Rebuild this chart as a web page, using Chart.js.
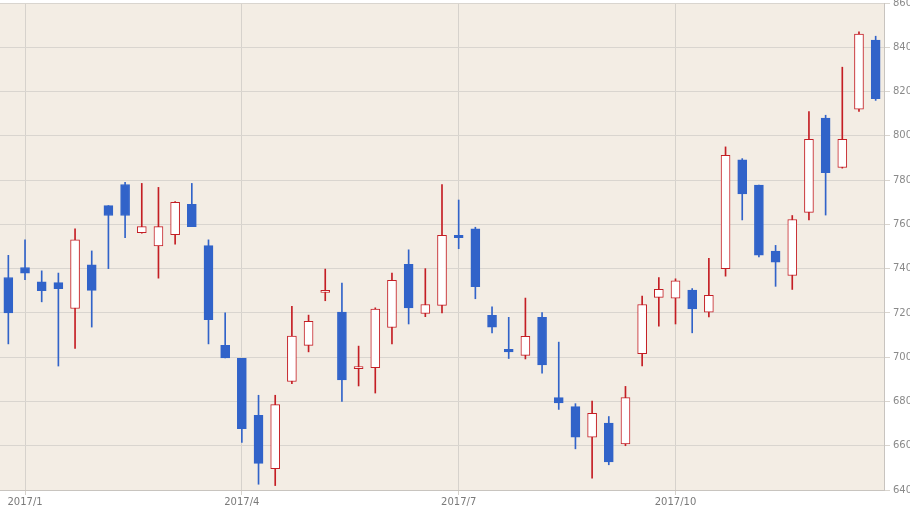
<!DOCTYPE html>
<html>
<head>
<meta charset="utf-8">
<script src="https://cdn.jsdelivr.net/npm/chart.js@4/dist/chart.umd.min.js"></script>
<style>
  html, body { margin: 0; padding: 0; background: #ffffff; }
  #wrap { width: 910px; height: 510px; }
</style>
</head>
<body>
<div id="wrap"><canvas id="candles" width="910" height="510"></canvas></div>
<script>
// weekly candles, 2017 (one entry per week, first one is the last week of 2016)
const weeks = [
  '2016/12/26', '2017/1/2', '2017/1/9', '2017/1/16', '2017/1/23', '2017/1/30', '2017/2/6', '2017/2/13', '2017/2/20', '2017/2/27',
  '2017/3/6', '2017/3/13', '2017/3/20', '2017/3/27', '2017/4/3', '2017/4/10', '2017/4/17', '2017/4/24', '2017/5/1', '2017/5/8',
  '2017/5/15', '2017/5/22', '2017/5/29', '2017/6/5', '2017/6/12', '2017/6/19', '2017/6/26', '2017/7/3', '2017/7/10', '2017/7/17',
  '2017/7/24', '2017/7/31', '2017/8/7', '2017/8/14', '2017/8/21', '2017/8/28', '2017/9/4', '2017/9/11', '2017/9/18', '2017/9/25',
  '2017/10/2', '2017/10/9', '2017/10/16', '2017/10/23', '2017/10/30', '2017/11/6', '2017/11/13', '2017/11/20', '2017/11/27', '2017/12/4',
  '2017/12/11', '2017/12/18', '2017/12/25'
];
const open = [
  736, 740.5, 734, 733.7, 722, 741.7, 768.5, 778, 756.2, 750.3,
  755.3, 769, 750.4, 705.4, 699.5, 673.7, 649.6, 689, 705.3, 729.3,
  720.4, 694.8, 695.3, 713.4, 742, 719.8, 723.4, 755.1, 758, 718.9,
  703.6, 700.8, 718, 681.7, 677.7, 663.9, 670.2, 660.8, 701.6, 727,
  726.7, 730.3, 720.3, 740, 789.1, 777.8, 747.9, 736.9, 765.4, 808,
  785.7, 812, 843.3
];
const close = [
  720, 738, 730, 731, 753, 730.2, 764, 764, 759, 759,
  770, 759, 717, 699.7, 667.7, 652, 678.6, 709.5, 716.2, 730.2,
  689.7, 695.7, 721.7, 734.7, 722.3, 723.8, 755.1, 754, 731.8, 713.6,
  702.4, 709.4, 696.5, 679.3, 663.9, 674.6, 652.7, 681.7, 723.8, 730.6,
  734.5, 721.8, 727.9, 791.2, 773.7, 746.1, 742.9, 762.2, 798.4, 783.3,
  798.4, 846, 816.8
];
const high = [
  746, 753, 739, 738, 758, 748, 768.5, 779, 778.5, 776.7,
  770.3, 778.5, 753, 720, 699.5, 682.8, 682.8, 723, 719, 739.8,
  733.5, 705, 722.3, 738, 748.5, 740, 778, 771, 758.7, 722.7,
  718, 726.7, 720.2, 706.8, 679, 680.2, 673.2, 686.8, 727.6, 736,
  735.4, 731, 744.7, 795, 789.7, 777.8, 750.5, 764, 810.9, 809.3,
  831, 847, 845
];
const low = [
  706, 735, 725, 696, 704, 713.6, 740, 754, 756, 735.7,
  751, 759, 706, 699.7, 661.5, 642.6, 642, 688, 702.4, 725.5,
  680, 687, 683.8, 706, 715, 718.3, 720, 749, 726.4, 711,
  699.4, 699.2, 692.8, 676.4, 658.6, 645.4, 651.4, 660, 696, 714,
  715, 711, 718.2, 736.6, 762, 745.3, 732, 730.6, 762, 764.2,
  785.4, 811, 816
];
const quarterLabels = { 1: '2017/1', 14: '2017/4', 27: '2017/7', 40: '2017/10' };
const yTicks = [640, 660, 680, 700, 720, 740, 760, 780, 800, 820, 840, 860];

const UP = '#c41e24';
const DOWN = '#3163c9';
const rising = open.map((o, i) => close[i] >= o);

// beige plot background
const plotBg = {
  id: 'plotBg',
  beforeDraw(chart) {
    const { ctx, chartArea: a } = chart;
    ctx.save();
    ctx.fillStyle = '#f3ede4';
    ctx.fillRect(a.left, a.top, a.right - a.left, a.bottom - a.top);
    ctx.restore();
  }
};

new Chart(document.getElementById('candles'), {
  type: 'bar',
  data: {
    labels: weeks,
    datasets: [
      {
        label: 'wick',
        data: low.map((l, i) => [l, high[i]]),
        backgroundColor: rising.map(r => r ? UP : DOWN),
        borderWidth: 0,
        barThickness: 1,
        grouped: false,
        order: 2
      },
      {
        label: 'body',
        data: open.map((o, i) => [o, close[i]]),
        backgroundColor: rising.map(r => r ? '#ffffff' : DOWN),
        borderColor: rising.map(r => r ? UP : DOWN),
        borderWidth: 1,
        borderSkipped: false,
        barThickness: 9,
        grouped: false,
        order: 1
      }
    ]
  },
  options: {
    responsive: false,
    animation: false,
    layout: { padding: { left: 0, right: 0, top: 0, bottom: 0 } },
    plugins: { legend: { display: false }, tooltip: { enabled: false } },
    scales: {
      x: {
        offset: true,
        grid: { offset: false, color: '#d6d2cc', tickLength: 5, drawTicks: true },
        border: { color: '#c8c4bf' },
        ticks: {
          autoSkip: false,
          maxRotation: 0,
          padding: 1,
          color: '#7a7a7a',
          font: { family: 'DejaVu Sans', size: 10 },
          callback: (v, i) => quarterLabels[i] ?? null
        },
        afterFit(scale) { scale.height = 20; scale.paddingLeft = 0; scale.paddingRight = 0; }
      },
      y: {
        position: 'right',
        min: 640,
        max: 860,
        afterBuildTicks(scale) { scale.ticks = yTicks.map(v => ({ value: v })); },
        grid: { color: '#d9d5cf', tickLength: 6 },
        border: { color: '#c8c4bf' },
        ticks: {
          padding: 3,
          color: '#8a8a8a',
          font: { family: 'DejaVu Sans', size: 10 }
        },
        afterFit(scale) { scale.width = 26; scale.paddingTop = 3; scale.paddingBottom = 0; }
      }
    }
  },
  plugins: [plotBg]
});
</script>
</body>
</html>
